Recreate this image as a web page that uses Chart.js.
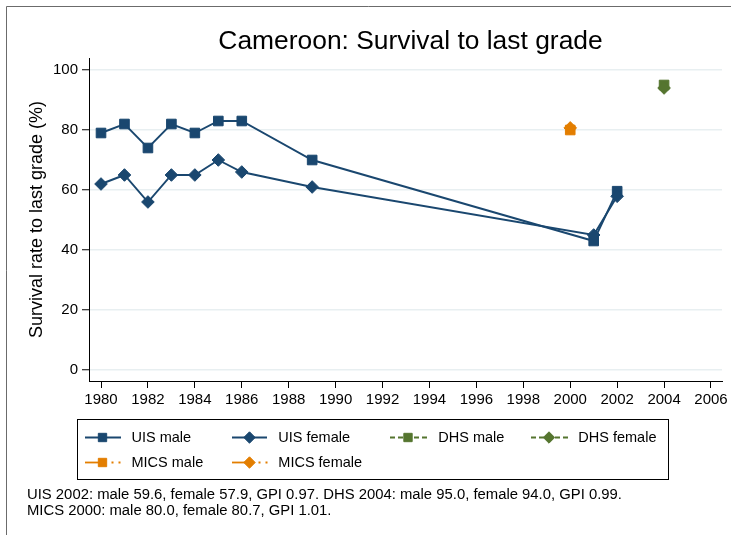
<!DOCTYPE html>
<html>
<head>
<meta charset="utf-8">
<script src="https://cdn.jsdelivr.net/npm/chart.js@4/dist/chart.umd.min.js"></script>
<style>
  html, body { margin: 0; padding: 0; background: #fff; }
  #wrap { width: 731px; height: 535px; position: relative; }
  canvas { display: block; }
</style>
</head>
<body>
<div id="wrap"><canvas id="c" width="731" height="535"></canvas></div>
<script>
// ---- data ----
const uisYears   = [1980, 1981, 1982, 1983, 1984, 1985, 1986, 1989, 2001, 2002];
const uisMale    = [79, 82, 74, 82, 79, 83, 83, 70, 43, 59.6];
const uisFemale  = [62, 65, 56, 65, 65, 70, 66, 61, 45, 57.9];
const dhsYears   = [2004];
const dhsMale    = [95.0];
const dhsFemale  = [94.0];
const micsYears  = [2000];
const micsMale   = [80.0];
const micsFemale = [80.7];
const xTickValues = [1980, 1982, 1984, 1986, 1988, 1990, 1992, 1994, 1996, 1998, 2000, 2002, 2004, 2006];
const yTickValues = [0, 20, 40, 60, 80, 100];
const seriesLabels = ['UIS male', 'UIS female', 'DHS male', 'DHS female', 'MICS male', 'MICS female'];
const titleText = 'Cameroon: Survival to last grade';
const yTitleText = 'Survival rate to last grade (%)';
const noteLines = [
  'UIS 2002: male 59.6, female 57.9, GPI 0.97. DHS 2004: male 95.0, female 94.0, GPI 0.99.',
  'MICS 2000: male 80.0, female 80.7, GPI 1.01.'
];

const FONT = "'Liberation Sans', Arial, Helvetica, sans-serif";
const NAVY = '#1a476f', GREEN = '#55752f', ORANGE = '#e37e00';

function pts(xs, ys) { return xs.map((x, i) => ({ x: x, y: ys[i] })); }

function ds(label, xs, ys, color, style, radius, dash, idx) {
  return {
    label: label,
    data: pts(xs, ys),
    borderColor: color,
    backgroundColor: color,
    pointBackgroundColor: color,
    pointBorderColor: color,
    pointBorderWidth: 1,
    pointStyle: style,
    pointRadius: radius,
    pointHoverRadius: radius,
    borderWidth: 1.9,
    borderDash: dash,
    showLine: true,
    tension: 0,
    order: 10 - idx
  };
}

const datasets = [
  ds(seriesLabels[0], uisYears, uisMale, NAVY, 'rect', 6.8, [], 0),
  ds(seriesLabels[1], uisYears, uisFemale, NAVY, 'rectRot', 6.3, [], 1),
  ds(seriesLabels[2], dhsYears, dhsMale, GREEN, 'rect', 6.8, [5, 3], 2),
  ds(seriesLabels[3], dhsYears, dhsFemale, GREEN, 'rectRot', 6.3, [5, 3], 3),
  ds(seriesLabels[4], micsYears, micsMale, ORANGE, 'rect', 6.8, [14, 4, 2, 4], 4),
  ds(seriesLabels[5], micsYears, micsFemale, ORANGE, 'rectRot', 6.3, [14, 4, 2, 4], 5)
];

// legend layout (positions only)
const legendSlots = [
  { row: 0, x0: 85,  xm: 102.5, x1: 121, tx: 131.5 },
  { row: 0, x0: 232, xm: 249.5, x1: 267, tx: 278.3 },
  { row: 0, x0: 390, xm: 408,   x1: 427, tx: 438.3 },
  { row: 0, x0: 531, xm: 549,   x1: 567, tx: 578.3 },
  { row: 1, x0: 85,  xm: 102.5, x1: 121, tx: 131.5 },
  { row: 1, x0: 232, xm: 249.5, x1: 267, tx: 278.3 }
];
const legendRowsY = [437.5, 462.5];

const decorPlugin = {
  id: 'decor',
  beforeDraw(chart) {
    const ctx = chart.ctx;
    ctx.save();
    ctx.fillStyle = '#fff';
    ctx.fillRect(0, 0, chart.width, chart.height);
    ctx.strokeStyle = '#6b6b6b';
    ctx.lineWidth = 1;
    ctx.beginPath();
    ctx.moveTo(6.5, chart.height);
    ctx.lineTo(6.5, 6.5);
    ctx.lineTo(chart.width, 6.5);
    ctx.stroke();
    ctx.restore();
  },
  afterDraw(chart) {
    const ctx = chart.ctx;
    ctx.save();
    // title
    ctx.fillStyle = '#000';
    ctx.font = '26.4px ' + FONT;
    ctx.textAlign = 'center';
    ctx.textBaseline = 'middle';
    ctx.fillText(titleText, 410.5, 42);

    // legend box
    ctx.strokeStyle = '#000';
    ctx.lineWidth = 1;
    ctx.strokeRect(77.5, 419.5, 591, 60);

    chart.data.datasets.forEach((d, i) => {
      const s = legendSlots[i];
      const y = legendRowsY[s.row];
      ctx.strokeStyle = d.borderColor;
      ctx.lineWidth = 1.8;
      const dash = d.borderDash || [];
      if (dash.length === 4) {
        ctx.setLineDash([]);
        ctx.beginPath(); ctx.moveTo(s.x0, y); ctx.lineTo(s.xm, y); ctx.stroke();
        ctx.setLineDash([2, 5]);
        ctx.beginPath(); ctx.moveTo(s.xm + 9, y); ctx.lineTo(s.x1 + 2, y); ctx.stroke();
      } else if (dash.length === 2) {
        ctx.setLineDash(dash);
        ctx.beginPath(); ctx.moveTo(s.x0, y); ctx.lineTo(s.xm, y); ctx.stroke();
        ctx.beginPath(); ctx.moveTo(s.xm + 6, y); ctx.lineTo(s.x1 + 2, y); ctx.stroke();
      } else {
        ctx.setLineDash([]);
        ctx.beginPath(); ctx.moveTo(s.x0, y); ctx.lineTo(s.x1, y); ctx.stroke();
      }
      ctx.setLineDash([]);
      ctx.fillStyle = d.backgroundColor;
      ctx.strokeStyle = d.borderColor;
      ctx.lineWidth = 1;
      Chart.helpers.drawPoint(ctx, {
        pointStyle: d.pointStyle,
        rotation: 0,
        radius: d.pointStyle === 'rect' ? 5.9 : 5.7,
        borderWidth: 1
      }, s.xm, y);
      ctx.fillStyle = '#000';
      ctx.font = '14.5px ' + FONT;
      ctx.textAlign = 'left';
      ctx.textBaseline = 'middle';
      ctx.fillText(d.label, s.tx, y + 0.5);
    });

    // note
    ctx.fillStyle = '#000';
    ctx.font = '14.85px ' + FONT;
    ctx.textAlign = 'left';
    ctx.textBaseline = 'middle';
    ctx.fillText(noteLines[0], 27, 495);
    ctx.fillText(noteLines[1], 27, 511);
    ctx.restore();
  }
};

new Chart(document.getElementById('c'), {
  type: 'line',
  data: { datasets: datasets },
  options: {
    responsive: false,
    animation: false,
    events: [],
    layout: { padding: { left: 0, right: 9, top: 58, bottom: 124 } },
    plugins: {
      legend: { display: false },
      title: { display: false },
      tooltip: { enabled: false }
    },
    scales: {
      x: {
        type: 'linear',
        min: 1979.488,
        max: 2006.469,
        afterFit(scale) { scale.height = 30; },
        afterBuildTicks(scale) { scale.ticks = xTickValues.map(v => ({ value: v })); },
        border: { display: true, color: '#000', width: 1 },
        grid: {
          display: true,
          drawOnChartArea: false,
          color: 'rgba(0,0,0,0)',
          tickColor: '#000',
          tickLength: 7,
          tickWidth: 1
        },
        ticks: {
          color: '#000',
          font: { family: FONT, size: 15 },
          padding: 3,
          maxRotation: 0,
          minRotation: 0,
          autoSkip: false,
          callback: v => String(v)
        }
      },
      y: {
        type: 'linear',
        min: -3.667,
        max: 104,
        afterFit(scale) { scale.width = 89; },
        afterBuildTicks(scale) { scale.ticks = yTickValues.map(v => ({ value: v })); },
        border: { display: true, color: '#000', width: 1 },
        grid: {
          display: true,
          drawOnChartArea: true,
          color: '#e8eff1',
          lineWidth: 1.5,
          tickColor: '#000',
          tickLength: 7,
          tickWidth: 1
        },
        ticks: {
          color: '#000',
          font: { family: FONT, size: 15 },
          padding: 4,
          callback: v => String(v)
        },
        title: {
          display: true,
          text: yTitleText,
          color: '#000',
          font: { family: FONT, size: 18 },
          padding: { top: 26, bottom: 0 }
        }
      }
    }
  },
  plugins: [decorPlugin]
});
</script>
</body>
</html>
